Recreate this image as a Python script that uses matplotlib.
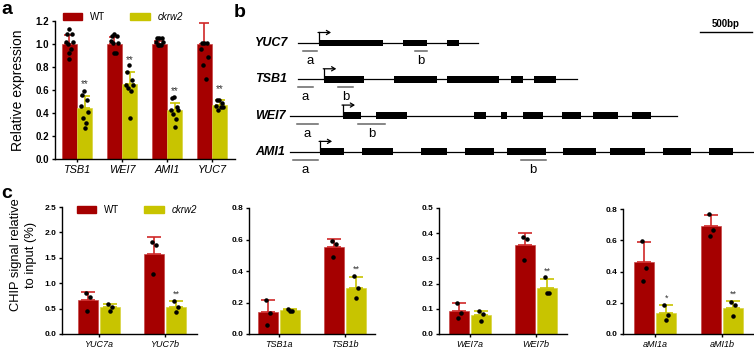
import matplotlib
matplotlib.use('Agg')
import matplotlib.pyplot as plt
from matplotlib.patches import Patch
import numpy as np

plt.rcParams['font.family'] = ['Liberation Sans', 'DejaVu Sans']

WT_COLOR = '#a50000'
MUT_COLOR = '#c8c400'
WT_ERR = '#d02828'
MUT_ERR = '#c8c400'

# ---- panel a data
genes_a = ['TSB1', 'WEI7', 'AMI1', 'YUC7']
wt_mean_a = [1.0, 1.0, 1.0, 1.0]
wt_err_a = [0.08, 0.06, 0.03, 0.18]
mut_mean_a = [0.44, 0.65, 0.43, 0.47]
mut_err_a = [0.11, 0.11, 0.06, 0.04]
wt_pts_a = [[1.13, 1.09, 1.09, 1.02, 1.02, 1.0, 0.96, 0.92, 0.87],
            [1.09, 1.07, 1.07, 1.03, 1.01, 1.01, 0.92, 0.92],
            [1.05, 1.05, 1.05, 1.02, 1.02, 0.99, 0.99, 0.99],
            [1.01, 1.01, 1.01, 0.96, 0.89, 0.82, 0.70]]
mut_pts_a = [[0.59, 0.56, 0.51, 0.46, 0.41, 0.36, 0.31, 0.27],
             [0.82, 0.76, 0.69, 0.64, 0.64, 0.62, 0.59, 0.36],
             [0.54, 0.53, 0.45, 0.43, 0.43, 0.39, 0.35, 0.28],
             [0.51, 0.51, 0.49, 0.46, 0.45, 0.43, 0.455]]
stars_a = ['**', '**', '**', '**']

# ---- panel b data (bp)
genes_b = ['YUC7', 'TSB1', 'WEI7', 'AMI1']
gene_start = [650, 650, 580, 580]
gene_end = [2380, 3330, 4290, 5020]
exon_start = [[850, 1660, 2080],
              [900, 1570, 2080, 2700, 2920],
              [1080, 1400, 2340, 2600, 2810, 3190, 3480, 3860],
              [860, 1270, 1830, 2260, 2660, 3200, 3650, 4160, 4600]]
exon_end = [[1470, 1890, 2200],
            [1290, 1990, 2580, 2810, 3130],
            [1260, 1700, 2460, 2660, 3000, 3370, 3720, 4040],
            [1090, 1560, 2080, 2530, 3030, 3510, 3980, 4430, 4830]]
tss = [850, 900, 1080, 860]
primer_a = [(700, 835), (650, 800), (640, 840), (600, 840)]
primer_b = [(1780, 1890), (1040, 1180), (1230, 1490), (2790, 3030)]
scale_bar = (4510, 5010)

# ---- panel c data
c_labels = [['YUC7a', 'YUC7b'], ['TSB1a', 'TSB1b'], ['WEI7a', 'WEI7b'], ['aMI1a', 'aMI1b']]
c_wt_mean = [[0.66, 1.57], [0.138, 0.554], [0.093, 0.353], [0.459, 0.689]]
c_wt_err = [[0.17, 0.34], [0.076, 0.047], [0.031, 0.049], [0.128, 0.07]]
c_wt_pts = [[[0.80, 0.72, 0.46], [1.81, 1.75, 1.175]],
            [[0.213, 0.133, 0.054], [0.588, 0.571, 0.491]],
            [[0.124, 0.085, 0.063], [0.384, 0.378, 0.295]],
            [[0.597, 0.422, 0.341], [0.768, 0.668, 0.625]]]
c_mut_mean = [[0.53, 0.54], [0.152, 0.294], [0.075, 0.184], [0.134, 0.166]]
c_mut_err = [[0.06, 0.10], [0.004, 0.068], [0.016, 0.034], [0.049, 0.043]]
c_mut_pts = [[[0.587, 0.54, 0.457], [0.65, 0.54, 0.44]],
             [[0.157, 0.149, 0.143], [0.367, 0.294, 0.231]],
             [[0.091, 0.078, 0.053], [0.225, 0.161, 0.161]],
             [[0.188, 0.119, 0.092], [0.203, 0.183, 0.113]]]
c_stars = [['', '**'], ['', '**'], ['', '**'], ['*', '**']]
c_ymax = [2.5, 0.8, 0.5, 0.8]
c_ystep = [0.5, 0.2, 0.1, 0.2]

W, H = 754, 350
fig = plt.figure(figsize=(W / 100, H / 100), dpi=100)


def px_axes(x0, y0, x1, y1):
    return fig.add_axes([x0 / W, 1 - y1 / H, (x1 - x0) / W, (y1 - y0) / H])


jit9 = [-0.01, -0.05, 0.05, -0.08, 0.07, -0.03, 0.04, 0.0, -0.01]
jit3 = [-0.03, 0.03, -0.01]


def style_axes(ax, ymax, ystep, tick_fs, lbl_fs, labels):
    for s in ['top', 'right']:
        ax.spines[s].set_visible(False)
    for s in ['left', 'bottom']:
        ax.spines[s].set_linewidth(1.0)
    ax.tick_params(width=1.0, length=2.5, pad=1.5)
    ticks = np.arange(0, ymax + 1e-9, ystep)
    ax.set_yticks(ticks, labels=[f'{t:.1f}' for t in ticks],
                  fontsize=tick_fs, fontweight='bold')
    ax.set_ylim(0, ymax)
    ax.set_xticks(range(len(labels)), labels=labels, fontsize=lbl_fs, style='italic')


def draw_bars(ax, wt, wte, mut, mute, wtp, mutp, stars, off, bw, cap, jit, star_dy, star_fs):
    x = np.arange(len(wt))
    ax.bar(x - off, wt, bw, color=WT_COLOR, edgecolor='#c84848', linewidth=0.5, zorder=2)
    ax.bar(x + off, mut, bw, color=MUT_COLOR, edgecolor='#d8d440', linewidth=0.5, zorder=2)
    ax.errorbar(x - off, wt, yerr=[np.zeros(len(wt)), wte], fmt='none',
                ecolor=WT_ERR, elinewidth=1.2, capsize=cap, capthick=1.2, zorder=3)
    ax.errorbar(x + off, mut, yerr=[np.zeros(len(mut)), mute], fmt='none',
                ecolor=MUT_ERR, elinewidth=1.2, capsize=cap, capthick=1.2, zorder=3)
    for i in range(len(wt)):
        p = wtp[i]
        ax.scatter(x[i] - off + np.array(jit[:len(p)]), p, s=5, color='black', zorder=4)
        p = mutp[i]
        ax.scatter(x[i] + off + np.array(jit[:len(p)]), p, s=5, color='black', zorder=4)
        if stars[i]:
            ax.text(x[i] + off, mut[i] + mute[i] + star_dy, stars[i], ha='center',
                    va='center', fontsize=star_fs, color='#333333')


def add_legend(ax, x, y):
    h = [Patch(color=WT_COLOR), Patch(color=MUT_COLOR)]
    leg = ax.legend(h, ['WT', 'ckrw2'], loc='center left', bbox_to_anchor=(x / W, 1 - y / H),
                    bbox_transform=fig.transFigure, ncol=2, frameon=False, fontsize=7,
                    handlelength=2.0, handleheight=0.7, handletextpad=0.8,
                    columnspacing=2.6, borderpad=0, borderaxespad=0)
    leg.get_texts()[1].set_style('italic')


# ---- panel a
axa = px_axes(54.5, 21, 234.5, 159)
draw_bars(axa, wt_mean_a, wt_err_a, mut_mean_a, mut_err_a, wt_pts_a, mut_pts_a,
          stars_a, 0.17, 0.33, 3.8, jit9, 0.1, 7)
style_axes(axa, 1.2, 0.2, 7, 7.8, genes_a)
axa.set_xlim(-0.5, 3.5)
add_legend(axa, 62.7, 17)
fig.text(18 / W, 1 - 90 / H, 'Relative expression', rotation=90, ha='center',
         va='center', fontsize=10)

# ---- panel b
axb = px_axes(230, 0, 754, 180)
axb.set_xlim(0, 5030)
axb.set_ylim(3.774, -1.185)
axb.axis('off')
for i, g in enumerate(genes_b):
    axb.plot([gene_start[i], gene_end[i]], [i, i], color='black', lw=0.9, zorder=1)
    starts = np.array(exon_start[i])
    ends = np.array(exon_end[i])
    axb.barh([i] * len(starts), ends - starts, left=starts, height=0.19,
             color='black', zorder=2)
    axb.plot([tss[i], tss[i]], [i, i - 0.29], color='black', lw=0.9)
    axb.annotate('', xy=(tss[i] + 120, i - 0.29), xytext=(tss[i] - 5, i - 0.29),
                 arrowprops=dict(arrowstyle='->,head_length=0.25,head_width=0.15',
                                 lw=0.9, color='black', shrinkA=0, shrinkB=0))
    axb.text(240, i, g, ha='left', va='center', fontsize=9, fontweight='bold',
             style='italic')
    for pr, name in [(primer_a[i], 'a'), (primer_b[i], 'b')]:
        axb.plot(pr, [i + 0.22, i + 0.22], color='#666666', lw=1.1)
        axb.text(np.mean(pr), i + 0.5, name, ha='center', va='center', fontsize=9.5)
axb.plot(scale_bar, [-0.3, -0.3], color='black', lw=1.0)
axb.text(np.mean(scale_bar), -0.52, '500bp', ha='center', va='center', fontsize=7,
         fontweight='bold')

# ---- panel c
c_pos = [(62, 207, 196.7), (249, 208, 375), (439, 208, 567), (623, 209, 754)]
c_xlim = [(-0.56, 1.48), (-0.455, 1.455), (-0.47, 1.47), (-0.48, 1.48)]
for k in range(4):
    x0, y0, x1 = c_pos[k]
    ax = px_axes(x0, y0, x1, 334)
    draw_bars(ax, c_wt_mean[k], c_wt_err[k], c_mut_mean[k], c_mut_err[k],
              c_wt_pts[k], c_mut_pts[k], c_stars[k], 0.17, 0.30, 5, jit3,
              0.06 * c_ymax[k], 6.5)
    style_axes(ax, c_ymax[k], c_ystep[k], 6, 6.5, c_labels[k])
    ax.set_xlim(*c_xlim[k])
    if k == 0:
        add_legend(ax, 76.7, 210)
fig.text(23.5 / W, 1 - 255 / H, 'CHIP signal relative\nto input (%)', rotation=90,
         ha='center', va='center', fontsize=9.3, multialignment='center', linespacing=1.3)

# panel letters
fig.text(1 / W, 1 - 14 / H, 'a', fontsize=14, fontweight='bold', va='baseline')
fig.text(234 / W, 1 - 17 / H, 'b', fontsize=14, fontweight='bold', va='baseline')
fig.text(1 / W, 1 - 198 / H, 'c', fontsize=14, fontweight='bold', va='baseline')

fig.savefig('out.png', dpi=100)
